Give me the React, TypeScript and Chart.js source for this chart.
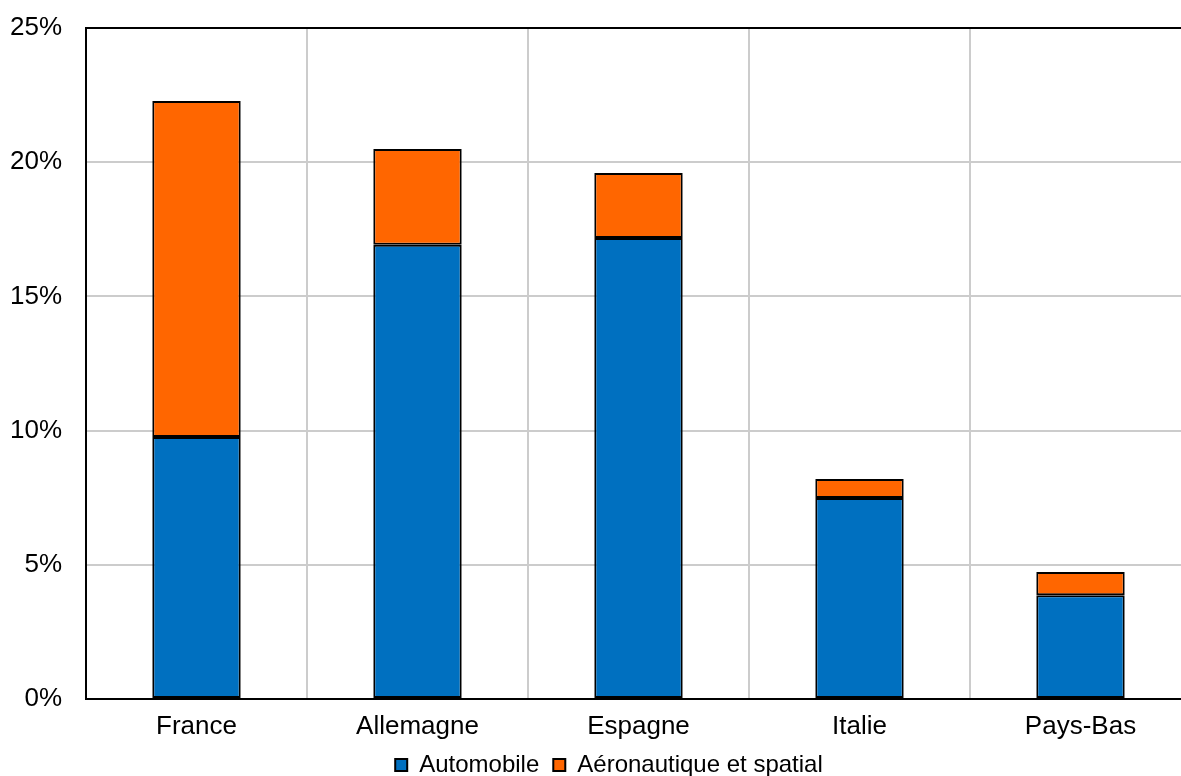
import React, { useEffect, useRef } from "react";
import { Chart, registerables } from "chart.js";

Chart.register(...registerables);

const categories = ["France", "Allemagne", "Espagne", "Italie", "Pays-Bas"];
const automobile = [9.76, 16.92, 17.18, 7.49, 3.87];
const aeronautique = [12.52, 3.57, 2.42, 0.71, 0.86];
const seriesNames = ["Automobile", "Aéronautique et spatial"];
const yTicks = [0, 5, 10, 15, 20, 25];

const FONT = "'Liberation Sans', Arial, sans-serif";

const zeroPad = (s: any) => {
  s.paddingTop = 0;
  s.paddingBottom = 0;
  s.paddingLeft = 0;
  s.paddingRight = 0;
};

export default function App() {
  const ref = useRef<HTMLCanvasElement | null>(null);

  useEffect(() => {
    document.body.style.margin = "0";
    const canvas = ref.current;
    if (!canvas) return;
    const chart = new Chart(canvas, {
      type: "bar",
      data: {
        labels: categories,
        datasets: [
          {
            label: seriesNames[0],
            data: automobile,
            backgroundColor: "#0070C0",
            borderColor: "#000000",
            borderWidth: 2,
            borderSkipped: false,
            categoryPercentage: 0.4,
            barPercentage: 1,
          },
          {
            label: seriesNames[1],
            data: aeronautique,
            backgroundColor: "#FF6600",
            borderColor: "#000000",
            borderWidth: 2,
            borderSkipped: false,
            categoryPercentage: 0.4,
            barPercentage: 1,
          },
        ],
      },
      options: {
        animation: false,
        responsive: false,
        devicePixelRatio: 1,
        layout: { padding: { top: 28, left: 0, right: 0, bottom: 0 } },
        plugins: {
          tooltip: { enabled: false },
          legend: {
            position: "bottom",
            maxHeight: 37,
            labels: {
              boxWidth: 12,
              boxHeight: 12,
              padding: 14,
              color: "#000000",
              font: { family: FONT, size: 24 },
            },
          },
        },
        scales: {
          x: {
            stacked: true,
            grid: { color: "#cccccc", lineWidth: 2, drawTicks: false, offset: true },
            border: { color: "#000000", width: 2 },
            ticks: {
              color: "#000000",
              padding: 12,
              font: { family: FONT, size: 26 },
            },
            afterFit: (s: any) => {
              s.height = 40;
              zeroPad(s);
            },
          },
          y: {
            stacked: true,
            min: 0,
            max: 25,
            afterBuildTicks: (s: any) => {
              s.ticks = yTicks.map((v) => ({ value: v }));
            },
            grid: {
              color: (ctx: any) => (ctx.tick && ctx.tick.value === 25 ? "#000000" : "#cccccc"),
              lineWidth: 2,
              drawTicks: false,
            },
            border: { color: "#000000", width: 2 },
            ticks: {
              color: "#000000",
              padding: 24,
              font: { family: FONT, size: 26 },
              callback: (v: any) => v + "%",
            },
            afterFit: (s: any) => {
              s.width = 86;
              zeroPad(s);
            },
          },
          y2: {
            position: "right",
            display: true,
            min: 0,
            max: 25,
            grid: { display: false },
            border: { display: false },
            ticks: { display: false },
            afterFit: (s: any) => {
              s.width = 27;
              zeroPad(s);
            },
          },
        },
      },
    });
    return () => chart.destroy();
  }, []);

  return (
    <div style={{ width: 1181, height: 776, overflow: "hidden", background: "#ffffff" }}>
      <canvas ref={ref} width={1218} height={776} style={{ display: "block", width: 1218, height: 776 }} />
    </div>
  );
}
